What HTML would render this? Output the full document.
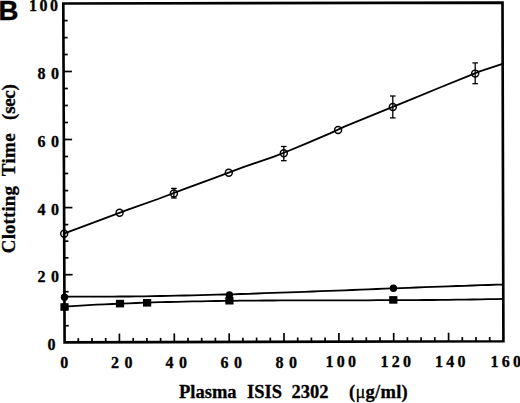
<!DOCTYPE html>
<html><head><meta charset="utf-8"><style>
html,body{margin:0;padding:0;background:#fff;}
body{width:520px;height:403px;overflow:hidden;position:relative;}
svg{position:absolute;left:0;top:0;}
.t{font-family:"Liberation Serif",serif;font-weight:bold;fill:#000;stroke:#000;stroke-width:0.3px;}
.b{font-family:"Liberation Sans",sans-serif;font-weight:bold;fill:#000;}
</style></head><body>
<svg width="520" height="403" viewBox="0 0 520 403">
<rect width="520" height="403" fill="#fff"/>
<text class="b" x="-1.6" y="20.2" font-size="27.6" stroke="#000" stroke-width="0.4">B</text>
<g stroke="#000" stroke-width="1.7" fill="none">
<line x1="64.5" y1="325.7" x2="68.7" y2="325.7"/><line x1="64.5" y1="308.7" x2="68.7" y2="308.7"/><line x1="64.4" y1="291.7" x2="68.6" y2="291.7"/><line x1="64.3" y1="274.7" x2="72.6" y2="274.7"/><line x1="64.3" y1="257.8" x2="68.5" y2="257.8"/><line x1="64.2" y1="241.2" x2="68.4" y2="241.2"/><line x1="64.1" y1="224.6" x2="68.3" y2="224.6"/><line x1="64.1" y1="207.6" x2="72.4" y2="207.6"/><line x1="64.0" y1="190.6" x2="68.2" y2="190.6"/><line x1="64.0" y1="173.5" x2="68.2" y2="173.5"/><line x1="63.9" y1="156.5" x2="68.1" y2="156.5"/><line x1="63.8" y1="139.5" x2="72.1" y2="139.5"/><line x1="63.8" y1="122.5" x2="68.0" y2="122.5"/><line x1="63.7" y1="105.5" x2="67.9" y2="105.5"/><line x1="63.6" y1="88.5" x2="67.8" y2="88.5"/><line x1="63.6" y1="71.5" x2="71.9" y2="71.5"/><line x1="63.5" y1="54.5" x2="67.7" y2="54.5"/><line x1="63.4" y1="37.6" x2="67.6" y2="37.6"/><line x1="63.4" y1="20.6" x2="67.6" y2="20.6"/><line x1="78.3" y1="342.4" x2="78.3" y2="338.1"/><line x1="92.0" y1="342.3" x2="92.0" y2="338.0"/><line x1="105.7" y1="342.3" x2="105.7" y2="338.0"/><line x1="119.4" y1="342.3" x2="119.4" y2="333.6"/><line x1="133.2" y1="342.2" x2="133.2" y2="337.9"/><line x1="146.9" y1="342.2" x2="146.9" y2="337.9"/><line x1="160.6" y1="342.2" x2="160.6" y2="337.9"/><line x1="174.3" y1="342.1" x2="174.3" y2="333.4"/><line x1="188.0" y1="342.1" x2="188.0" y2="337.8"/><line x1="201.7" y1="342.1" x2="201.7" y2="337.8"/><line x1="215.4" y1="342.0" x2="215.4" y2="337.7"/><line x1="229.2" y1="342.0" x2="229.2" y2="333.3"/><line x1="242.9" y1="342.0" x2="242.9" y2="337.7"/><line x1="256.6" y1="341.9" x2="256.6" y2="337.6"/><line x1="270.3" y1="341.9" x2="270.3" y2="337.6"/><line x1="284.0" y1="341.8" x2="284.0" y2="333.1"/><line x1="297.7" y1="341.8" x2="297.7" y2="337.5"/><line x1="311.4" y1="341.8" x2="311.4" y2="337.5"/><line x1="325.1" y1="341.7" x2="325.1" y2="337.4"/><line x1="338.9" y1="341.7" x2="338.9" y2="333.0"/><line x1="352.6" y1="341.7" x2="352.6" y2="337.4"/><line x1="366.3" y1="341.6" x2="366.3" y2="337.3"/><line x1="380.0" y1="341.6" x2="380.0" y2="337.3"/><line x1="393.7" y1="341.6" x2="393.7" y2="332.9"/><line x1="407.4" y1="341.5" x2="407.4" y2="337.2"/><line x1="421.1" y1="341.5" x2="421.1" y2="337.2"/><line x1="434.8" y1="341.5" x2="434.8" y2="337.2"/><line x1="448.6" y1="341.4" x2="448.6" y2="332.7"/><line x1="462.3" y1="341.4" x2="462.3" y2="337.1"/><line x1="476.0" y1="341.4" x2="476.0" y2="337.1"/><line x1="489.7" y1="341.3" x2="489.7" y2="337.0"/>
</g>
<polygon points="63.3,3.5 502.5,2.6 503.4,341.3 64.6,342.4" fill="none" stroke="#000" stroke-width="2.65" stroke-linejoin="miter"/>
<g fill="none" stroke="#000" stroke-width="1.8" stroke-linejoin="round">
<polyline points="64.5,233.3 94.0,222.4 128.0,209.6 158.0,199.0 184.0,189.1 214.0,178.1 244.0,166.9 274.0,156.7 287.0,151.5 306.0,143.7 330.0,133.4 345.0,126.4 375.0,114.2 410.0,99.9 440.0,87.5 470.0,75.3 479.0,71.6 501.0,64.4 503.0,63.7"/>
<polyline points="64.5,296.6 72.5,296.6 80.5,296.7 88.5,296.7 96.5,296.7 104.5,296.6 112.5,296.6 120.5,296.5 128.5,296.5 136.5,296.4 144.5,296.3 152.5,296.1 160.5,296.0 168.5,295.9 176.5,295.7 184.5,295.5 192.5,295.3 200.5,295.1 208.5,294.9 216.5,294.7 224.5,294.5 232.5,294.3 240.5,294.0 248.5,293.8 256.5,293.5 264.5,293.2 272.5,292.9 280.5,292.7 288.5,292.4 296.5,292.1 304.5,291.8 312.5,291.5 320.5,291.2 328.5,290.9 336.5,290.6 344.5,290.3 352.5,290.0 360.5,289.6 368.5,289.3 376.5,289.0 384.5,288.7 392.5,288.4 400.5,288.1 408.5,287.8 416.5,287.5 424.5,287.2 432.5,286.9 440.5,286.6 448.5,286.3 456.5,286.0 464.5,285.8 472.5,285.5 480.5,285.2 488.5,285.0 496.5,284.7 503.0,284.6"/>
<polyline points="64.5,306.6 72.5,306.1 80.5,305.6 88.5,305.2 96.5,304.7 104.5,304.3 112.5,304.0 120.5,303.6 128.5,303.3 136.5,303.0 144.5,302.7 152.5,302.4 160.5,302.2 168.5,302.0 176.5,301.8 184.5,301.6 192.5,301.4 200.5,301.3 208.5,301.1 216.5,301.0 224.5,300.9 232.5,300.8 240.5,300.7 248.5,300.6 256.5,300.6 264.5,300.5 272.5,300.5 280.5,300.4 288.5,300.4 296.5,300.4 304.5,300.4 312.5,300.3 320.5,300.3 328.5,300.3 336.5,300.3 344.5,300.3 352.5,300.3 360.5,300.3 368.5,300.3 376.5,300.2 384.5,300.2 392.5,300.2 400.5,300.2 408.5,300.1 416.5,300.1 424.5,300.0 432.5,300.0 440.5,299.9 448.5,299.8 456.5,299.7 464.5,299.6 472.5,299.5 480.5,299.4 488.5,299.2 496.5,299.1 503.0,298.9"/>
</g>
<g stroke="#000" stroke-width="1.3" fill="none">
<line x1="173.9" y1="188.4" x2="173.9" y2="198.0"/><line x1="171.1" y1="188.4" x2="176.7" y2="188.4"/><line x1="171.1" y1="198.0" x2="176.7" y2="198.0"/><line x1="283.8" y1="146.5" x2="283.8" y2="160.7"/><line x1="281.0" y1="146.5" x2="286.6" y2="146.5"/><line x1="281.0" y1="160.7" x2="286.6" y2="160.7"/><line x1="392.8" y1="96.0" x2="392.8" y2="117.9"/><line x1="390.0" y1="96.0" x2="395.6" y2="96.0"/><line x1="390.0" y1="117.9" x2="395.6" y2="117.9"/><line x1="475.2" y1="62.9" x2="475.2" y2="83.7"/><line x1="472.4" y1="62.9" x2="478.0" y2="62.9"/><line x1="472.4" y1="83.7" x2="478.0" y2="83.7"/>
</g>
<g stroke="#000" stroke-width="1.45" fill="none">
<circle cx="64.2" cy="233.7" r="3.5"/><circle cx="119.6" cy="212.7" r="3.5"/><circle cx="173.9" cy="193.5" r="3.5"/><circle cx="228.8" cy="172.7" r="3.5"/><circle cx="283.8" cy="153.2" r="3.5"/><circle cx="338.1" cy="130.0" r="3.5"/><circle cx="392.8" cy="107.0" r="3.5"/><circle cx="475.2" cy="73.6" r="3.5"/>
</g>
<g fill="#000">
<circle cx="64.5" cy="297.3" r="3.7"/><circle cx="229.4" cy="295.0" r="3.7"/><circle cx="393.4" cy="288.2" r="3.7"/>
<rect x="60.4" y="303.2" width="8.2" height="7.6"/><rect x="115.9" y="299.8" width="8.2" height="7.6"/><rect x="143.0" y="299.0" width="8.2" height="7.6"/><rect x="225.3" y="296.9" width="8.2" height="7.6"/><rect x="389.2" y="296.1" width="8.2" height="7.6"/>
</g>
<g class="t" font-size="16">
<text x="29" y="11" letter-spacing="2.5">100</text>
<text x="37.5" y="78.5" letter-spacing="5.5">80</text>
<text x="37.5" y="146.5" letter-spacing="5.5">60</text>
<text x="37.5" y="214.5" letter-spacing="5.5">40</text>
<text x="37.5" y="281.5" letter-spacing="5.5">20</text>
<text x="47.5" y="349.5">0</text>
<text x="60.3" y="368">0</text>
<text x="111" y="368" letter-spacing="5.5">20</text>
<text x="165.5" y="367.5" letter-spacing="5.5">40</text>
<text x="220.5" y="367.5" letter-spacing="5.5">60</text>
<text x="275.5" y="367.5" letter-spacing="5.5">80</text>
<text x="325.5" y="367" letter-spacing="3.3">100</text>
<text x="380.5" y="367" letter-spacing="3.3">120</text>
<text x="435" y="367" letter-spacing="3.3">140</text>
<text x="490.5" y="367" letter-spacing="3.3">160</text>
</g>
<g class="t" font-size="18.5">
<text x="179" y="398.4">Plasma</text>
<text x="247" y="398.4">ISIS</text>
<text x="291.5" y="398.4">2302</text>
<text x="349" y="398.4" letter-spacing="0.25">(<tspan font-weight="normal">μ</tspan>g/ml)</text>
</g>
<g class="t" font-size="19" transform="rotate(-90)">
<text x="-253.2" y="15.2" letter-spacing="0.1">Clotting</text>
<text x="-176.2" y="15.2" letter-spacing="0.3">Time</text>
<text x="-119.9" y="15.2" letter-spacing="-0.3">(sec)</text>
</g>
</svg>
</body></html>
